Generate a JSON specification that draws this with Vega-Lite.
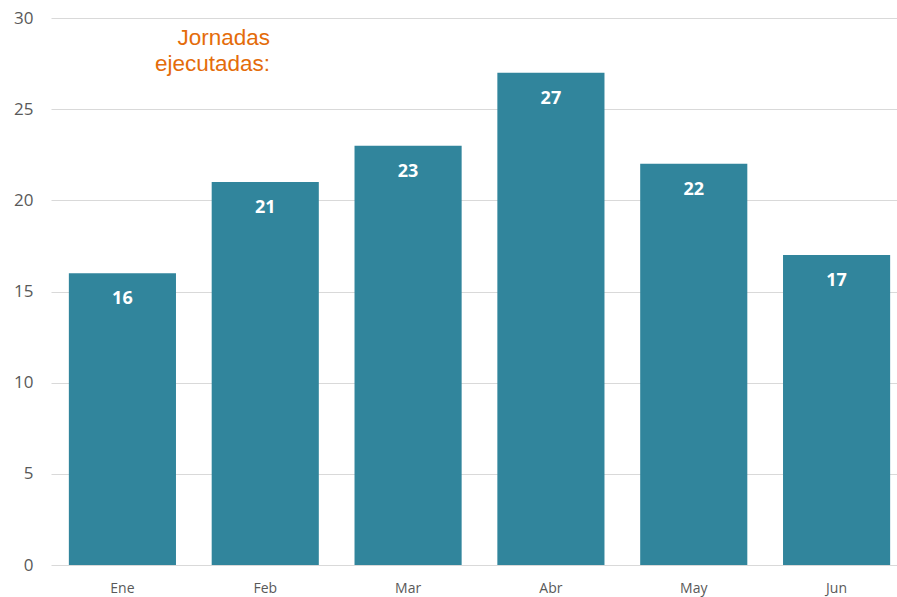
{
  "$schema": "https://vega.github.io/schema/vega-lite/v6.json",
  "autosize": "none",
  "width": 857,
  "height": 547,
  "padding": {"left": 51, "top": 18, "right": 0, "bottom": 32},
  "background": "white",
  "config": {"view": {"stroke": null}},
  "title": {
    "text": ["Jornadas", "ejecutadas:"],
    "orient": "top",
    "anchor": "start",
    "frame": "group",
    "align": "right",
    "baseline": "top",
    "dx": 219,
    "dy": 60,
    "offset": -6,
    "font": "Liberation Sans",
    "fontSize": 22.5,
    "fontWeight": "normal",
    "lineHeight": 26,
    "color": "#E46C0A"
  },
  "data": {
    "values": [
      {"mes": "Ene", "jornadas": 16},
      {"mes": "Feb", "jornadas": 21},
      {"mes": "Mar", "jornadas": 23},
      {"mes": "Abr", "jornadas": 27},
      {"mes": "May", "jornadas": 22},
      {"mes": "Jun", "jornadas": 17}
    ]
  },
  "encoding": {
    "x": {
      "field": "mes",
      "type": "nominal",
      "sort": null,
      "scale": {"paddingInner": 0.25, "paddingOuter": 0.125},
      "axis": {
        "title": null,
        "labelAngle": 0,
        "domain": false,
        "ticks": false,
        "labelPadding": 16,
        "labelFont": "Open Sans",
        "labelFontSize": 14,
        "labelColor": "#595959"
      }
    },
    "y": {
      "field": "jornadas",
      "type": "quantitative",
      "scale": {"domain": [0, 30]},
      "axis": {
        "title": null,
        "values": [0, 5, 10, 15, 20, 25, 30],
        "domain": false,
        "ticks": false,
        "labelPadding": 18,
        "labelFont": "Open Sans",
        "labelFontSize": 17,
        "labelColor": "#595959",
        "gridColor": "#D9D9D9",
        "gridWidth": 1
      }
    }
  },
  "layer": [
    {"mark": {"type": "bar", "color": "#31859C"}},
    {
      "mark": {
        "type": "text",
        "baseline": "middle",
        "dy": 26,
        "color": "white",
        "font": "Open Sans",
        "fontSize": 18,
        "fontWeight": "bold"
      },
      "encoding": {"text": {"field": "jornadas", "type": "quantitative"}}
    }
  ]
}
